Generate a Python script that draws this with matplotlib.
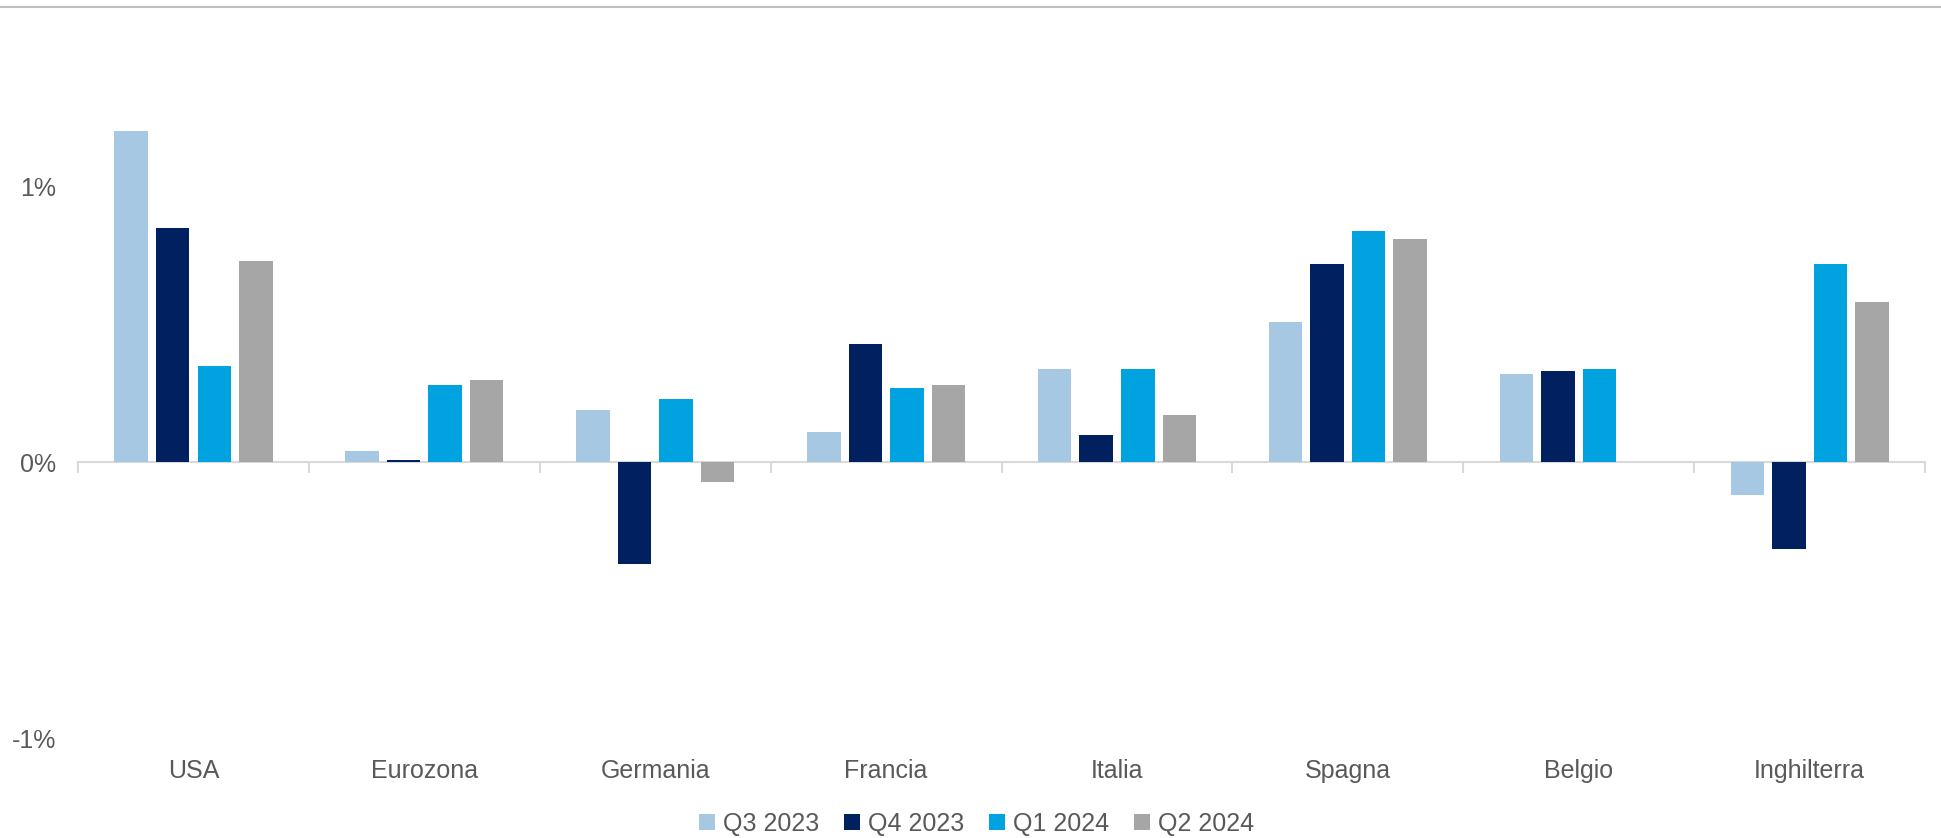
import numpy as np
import matplotlib.pyplot as plt
import matplotlib.transforms as mtransforms
from matplotlib.ticker import FuncFormatter

plt.rcParams['font.family'] = ['Liberation Sans', 'DejaVu Sans']

countries = ["USA", "Eurozona", "Germania", "Francia", "Italia", "Spagna", "Belgio", "Inghilterra"]
series_names = ["Q3 2023", "Q4 2023", "Q1 2024", "Q2 2024"]
q3_2023 = [1.20, 0.04, 0.19, 0.11, 0.34, 0.51, 0.32, -0.12]
q4_2023 = [0.85, 0.008, -0.37, 0.43, 0.10, 0.72, 0.33, -0.315]
q1_2024 = [0.35, 0.28, 0.23, 0.27, 0.34, 0.84, 0.34, 0.72]
q2_2024 = [0.73, 0.30, -0.07, 0.28, 0.17, 0.81, np.nan, 0.58]
colors = ["#A6C8E2", "#002060", "#00A3E0", "#A6A6A6"]
text_col = "#595959"
fs = 18

fig = plt.figure(figsize=(19.41, 8.38), dpi=100)
ax = fig.add_axes([0.0402, 0.1193, 0.9516, 0.8226])

x = np.arange(len(countries))
series = [q3_2023, q4_2023, q1_2024, q2_2024]
for j, (vals, name) in enumerate(zip(series, series_names)):
    ax.bar(x + (j - 1.5) * 0.18, vals, width=0.145, color=colors[j], label=name, zorder=2)

ax.set_xlim(-0.5, len(countries) - 0.5)
ax.set_ylim(-1, 1.5)
ax.set_yticks([-1, 0, 1])
ax.yaxis.set_major_formatter(FuncFormatter(lambda v, p: "%d%%" % v))
ax.tick_params(axis='y', length=0, pad=16, labelsize=fs, labelcolor=text_col)

for s in ["top", "right", "left"]:
    ax.spines[s].set_visible(False)
ax.spines["bottom"].set_position(("data", 0))
ax.spines["bottom"].set_color("#D9D9D9")
ax.spines["bottom"].set_linewidth(1.5)
ax.spines["bottom"].set_zorder(1)
ax.set_xticks([])
ax.set_xticks(np.arange(len(countries) + 1) - 0.5, minor=True)
ax.tick_params(axis='x', which='minor', length=8, width=1.5, color="#D9D9D9", labelbottom=False)

trans = mtransforms.blended_transform_factory(ax.transData, ax.transAxes)
for i, c in enumerate(countries):
    ax.text(i, -0.048, c, transform=trans, ha='center', va='center', fontsize=fs, color=text_col)

fig.legend(loc='center', bbox_to_anchor=(0.503, 0.017), ncol=4, frameon=False,
           fontsize=fs, labelcolor=text_col, handlelength=0.65, handleheight=0.65,
           handletextpad=0.3, columnspacing=1.0)

fig.add_artist(plt.Line2D([0, 1], [0.9916, 0.9916], transform=fig.transFigure, color="#BFBFBF", lw=1.5))

fig.savefig("out.png", dpi=100, facecolor="white")
